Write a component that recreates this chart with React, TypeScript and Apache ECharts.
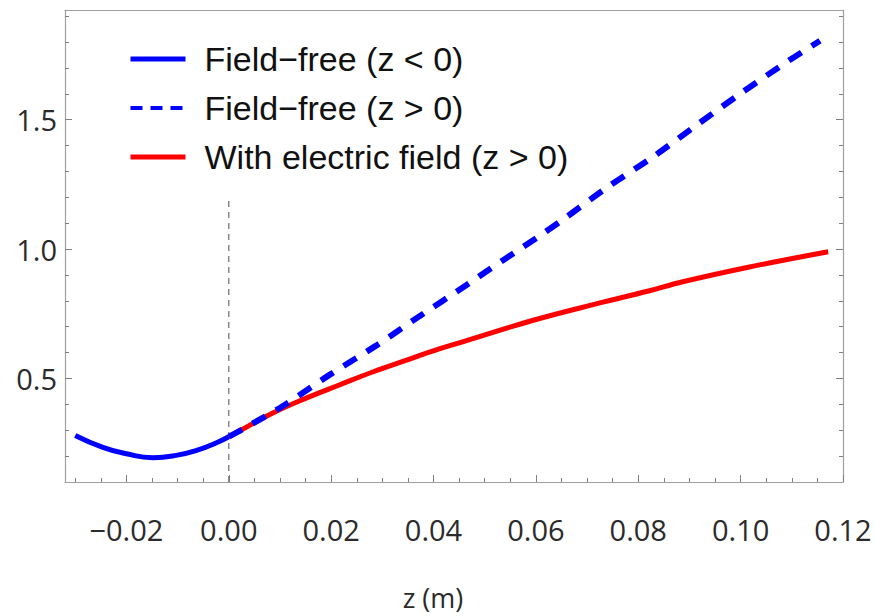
import React, { useEffect, useRef } from "react";
import * as echarts from "echarts";

// Field-free beam (z < 0), solid blue
const fieldFreeNeg: [number, number][] = [
  [-0.03, 0.28],
  [-0.0246, 0.234],
  [-0.02, 0.209],
  [-0.0148, 0.194],
  [-0.0103, 0.203],
  [-0.0057, 0.226],
  [-0.0025, 0.251],
  [0.0, 0.275],
];

// Field-free beam (z > 0), dashed blue
const fieldFreePos: [number, number][] = [
  [0.0, 0.275],
  [0.0027, 0.304],
  [0.0105, 0.393],
  [0.0196, 0.513],
  [0.0287, 0.626],
  [0.0372, 0.74],
  [0.0469, 0.867],
  [0.0511, 0.924],
  [0.0602, 1.044],
  [0.0648, 1.107],
  [0.0736, 1.234],
  [0.0827, 1.354],
  [0.0911, 1.475],
  [0.0999, 1.6],
  [0.1093, 1.727],
  [0.1155, 1.805],
];

// With electric field (z > 0), solid red
const withField: [number, number][] = [
  [0.0, 0.275],
  [0.0021, 0.297],
  [0.0086, 0.367],
  [0.0151, 0.424],
  [0.0216, 0.475],
  [0.0281, 0.525],
  [0.0346, 0.57],
  [0.0411, 0.614],
  [0.0463, 0.645],
  [0.0593, 0.724],
  [0.0723, 0.791],
  [0.082, 0.838],
  [0.0885, 0.873],
  [0.1015, 0.93],
  [0.1171, 0.99],
];

// vertical reference at z = 0
const zeroLine: [number, number][] = [
  [0, 0.1],
  [0, 1.2],
];

const seriesNames = [
  "Field\u2212free (z < 0)",
  "Field\u2212free (z > 0)",
  "With electric field (z > 0)",
];

const xMajorTicks = [-0.02, 0, 0.02, 0.04, 0.06, 0.08, 0.1, 0.12];
const xMinorTicks = [
  -0.03, -0.025, -0.015, -0.01, -0.005, 0.005, 0.01, 0.015, 0.025, 0.03, 0.035,
  0.045, 0.05, 0.055, 0.065, 0.07, 0.075, 0.085, 0.09, 0.095, 0.105, 0.11, 0.115,
];
const yMajorTicks = [0.5, 1.0, 1.5];
const yMinorTicks = [
  0.2, 0.3, 0.4, 0.6, 0.7, 0.8, 0.9, 1.1, 1.2, 1.3, 1.4, 1.6, 1.7, 1.8, 1.9,
];

const X_MIN = -0.032;
const X_MAX = 0.12;
const Y_MIN = 0.1;
const Y_MAX = 1.924;

const FRAME = "#a0a0a0";
const TICK = "#808080";
const LABEL = "#2b2b2b";
const TICK_FONT = "Open Sans";
const HIDDEN = "rgba(0,0,0,0)";

export default function App() {
  const ref = useRef<HTMLDivElement>(null);

  useEffect(() => {
    if (!ref.current) return;
    const chart = echarts.init(ref.current, undefined, { renderer: "svg" });

    const fmtX = (v: number) => {
      const s = Math.abs(v) < 1e-9 ? "0.00" : v.toFixed(2);
      return s.replace("-", "\u2212");
    };

    const baseX = {
      type: "value" as const,
      min: X_MIN,
      max: X_MAX,
      splitLine: { show: false },
      axisLine: { show: false, onZero: false },
      axisLabel: { show: false },
      axisTick: { show: false },
    };
    const baseY = {
      type: "value" as const,
      min: Y_MIN,
      max: Y_MAX,
      splitLine: { show: false },
      axisLine: { show: false, onZero: false },
      axisLabel: { show: false },
      axisTick: { show: false },
    };

    const hiddenSymbol = { color: HIDDEN, borderColor: HIDDEN, borderWidth: 0, opacity: 0 };

    const option: any = {
      animation: false,
      backgroundColor: "#ffffff",
      grid: { left: 65, right: 32, top: 10, bottom: 126, containLabel: false },
      legend: {
        orient: "vertical",
        left: 128,
        top: 42,
        padding: 0,
        itemWidth: 55,
        itemHeight: 6,
        itemGap: 15,
        itemStyle: hiddenSymbol,
        textStyle: {
          fontSize: 34,
          fontFamily: "Liberation Sans",
          color: "#111111",
          padding: [0, 0, 0, 14],
        },
        data: [
          {
            name: seriesNames[0],
            lineStyle: { width: 5, color: "#0000ff" },
            itemStyle: hiddenSymbol,
          },
          {
            name: seriesNames[1],
            lineStyle: { type: [12, 8], width: 4, color: "#0000ff", cap: "butt" },
            itemStyle: hiddenSymbol,
          },
          {
            name: seriesNames[2],
            lineStyle: { width: 5, color: "#ff0000" },
            itemStyle: hiddenSymbol,
          },
        ],
      },
      xAxis: [
        {
          ...baseX,
          position: "bottom",
          axisLine: { show: true, onZero: false, lineStyle: { color: FRAME, width: 1.2 } },
          axisTick: {
            show: true,
            inside: true,
            length: 7,
            customValues: xMajorTicks,
            lineStyle: { color: TICK, width: 1 },
          },
          axisLabel: {
            show: true,
            customValues: xMajorTicks,
            formatter: fmtX,
            margin: 33,
            fontSize: 29,
            fontFamily: TICK_FONT,
            color: LABEL,
          },
          name: "z (m)",
          nameLocation: "middle",
          nameGap: 102,
          nameTextStyle: {
            fontSize: 27,
            fontFamily: TICK_FONT,
            color: LABEL,
            padding: [0, 42, 0, 0],
          },
        },
        {
          ...baseX,
          position: "bottom",
          axisTick: {
            show: true,
            inside: true,
            length: 4,
            customValues: xMinorTicks,
            lineStyle: { color: TICK, width: 1 },
          },
        },
        {
          ...baseX,
          position: "top",
          axisLine: { show: true, onZero: false, lineStyle: { color: FRAME, width: 1.2 } },
        },
      ],
      yAxis: [
        {
          ...baseY,
          position: "left",
          axisLine: { show: true, onZero: false, lineStyle: { color: FRAME, width: 1.2 } },
          axisTick: {
            show: true,
            inside: true,
            length: 7,
            customValues: yMajorTicks,
            lineStyle: { color: TICK, width: 1 },
          },
          axisLabel: {
            show: true,
            customValues: yMajorTicks,
            formatter: (v: number) => v.toFixed(1),
            margin: 8,
            fontSize: 29,
            fontFamily: TICK_FONT,
            color: LABEL,
          },
        },
        {
          ...baseY,
          position: "left",
          axisTick: {
            show: true,
            inside: true,
            length: 4,
            customValues: yMinorTicks,
            lineStyle: { color: TICK, width: 1 },
          },
        },
        {
          ...baseY,
          position: "right",
          axisLine: { show: true, onZero: false, lineStyle: { color: FRAME, width: 1.2 } },
          axisTick: {
            show: true,
            inside: true,
            length: 7,
            customValues: yMajorTicks,
            lineStyle: { color: TICK, width: 1 },
          },
        },
        {
          ...baseY,
          position: "right",
          axisTick: {
            show: true,
            inside: true,
            length: 4,
            customValues: yMinorTicks,
            lineStyle: { color: TICK, width: 1 },
          },
        },
      ],
      series: [
        {
          name: "z=0",
          type: "line",
          data: zeroLine,
          symbol: "none",
          silent: true,
          lineStyle: { color: "#777777", width: 1.3, type: [6, 5] },
        },
        {
          name: seriesNames[0],
          type: "line",
          data: fieldFreeNeg,
          symbol: "none",
          smooth: 0.5,
          lineStyle: { color: "#0000ff", width: 5 },
          itemStyle: { color: "#0000ff" },
        },
        {
          name: seriesNames[2],
          type: "line",
          data: withField,
          symbol: "none",
          smooth: 0.4,
          lineStyle: { color: "#ff0000", width: 5 },
          itemStyle: { color: "#ff0000" },
        },
        {
          name: seriesNames[1],
          type: "line",
          data: fieldFreePos,
          symbol: "none",
          smooth: 0.3,
          lineStyle: { color: "#0000ff", width: 6, type: [15, 12], cap: "butt" },
          itemStyle: { color: "#0000ff" },
        },
      ],
    };

    chart.setOption(option);
    return () => {
      chart.dispose();
    };
  }, []);

  return (
    <div
      ref={ref}
      style={{ position: "absolute", left: 0, top: 0, width: 875, height: 616 }}
    />
  );
}
